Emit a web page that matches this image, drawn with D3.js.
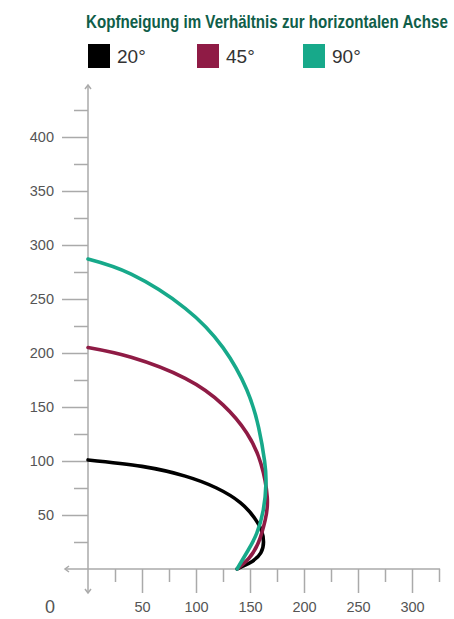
<!DOCTYPE html>
<html>
<head>
<meta charset="utf-8">
<script src="https://cdn.jsdelivr.net/npm/d3@7"></script>
<style>
  body { margin: 0; background: #fff; }
  svg { display: block; font-family: "Liberation Sans", Arial, sans-serif; }
</style>
</head>
<body>
<div id="grafico"></div>
<script>
// Daten
const titel = "Kopfneigung im Verhältnis zur horizontalen Achse";
const serien = ["20°", "45°", "90°"];
const farben = ["#000000", "#8f1b45", "#17a98a"];

const x20 = [0, 50, 90, 119, 141, 154, 160.5, 162.5, 160, 152, 143, 138];
const y20 = [101, 95, 86, 75, 61.5, 47.5, 36, 25, 15, 7, 2.5, 0];

const x45 = [0, 40, 90, 125, 147, 160, 166, 164, 158, 149, 138];
const y45 = [205, 196, 176.5, 152, 126, 98, 66, 45, 25, 10, 0];

const x90 = [0, 40, 90, 125, 147, 158, 163.5, 164.8, 162.3, 156.2, 148.4, 138];
const y90 = [287, 273, 241.4, 205, 166, 131, 100, 79.3, 54.6, 33, 17.6, 0];

const xTicks = [50, 100, 150, 200, 250, 300];
const xMinor = [25, 75, 125, 175, 225, 275, 325];
const yTicks = [50, 100, 150, 200, 250, 300, 350, 400];
const yMinor = [25, 75, 125, 175, 225, 275, 325, 375, 425];

function criarGrafico() {
    const svg = d3.select("#grafico").append("svg")
        .attr("width", 454)
        .attr("height", 619);

    const achsenFarbe = "#aaaaaa";

    // Skalen: 1.08 px pro Einheit
    const x = d3.scaleLinear().domain([0, 300]).range([88, 412]);
    const y = d3.scaleLinear().domain([0, 400]).range([569, 137]);

    // Titel (schmal gestaucht auf die Breite der Vorlage)
    const titelText = svg.append("text")
        .attr("font-family", "'Liberation Sans Narrow', 'Arial Narrow', 'Liberation Sans', sans-serif")
        .attr("font-weight", "bold")
        .attr("font-size", 18)
        .attr("fill", "#105e49")
        .text(titel);
    const breite = titelText.node().getComputedTextLength();
    titelText.attr("transform", `translate(86,28) scale(${362 / breite},1)`);

    // Legende
    const legX = [88, 197, 303];
    const legende = svg.append("g");
    serien.forEach((s, i) => {
        legende.append("rect")
            .attr("x", legX[i]).attr("y", 44)
            .attr("width", 22).attr("height", 24)
            .attr("fill", farben[i]);
        legende.append("text")
            .attr("x", legX[i] + 29).attr("y", 63)
            .attr("font-size", 19)
            .attr("fill", "#333")
            .text(s);
    });

    // Y-Achse Hauptstriche
    const yAchse = svg.append("g")
        .attr("transform", "translate(88,0)")
        .call(d3.axisLeft(y).tickValues(yTicks).tickSize(26).tickPadding(8));
    yAchse.select(".domain").remove();
    yAchse.selectAll("line").attr("stroke", achsenFarbe).attr("stroke-width", 1.5);
    yAchse.selectAll("text")
        .attr("font-size", 14.5)
        .attr("font-family", "'Liberation Sans', Arial, sans-serif")
        .attr("fill", "#555");

    // Y-Achse Nebenstriche
    const yNeben = svg.append("g")
        .attr("transform", "translate(88,0)")
        .call(d3.axisLeft(y).tickValues(yMinor).tickSize(14).tickFormat(""));
    yNeben.select(".domain").remove();
    yNeben.selectAll("line").attr("stroke", achsenFarbe).attr("stroke-width", 1.5);

    // X-Achse Hauptstriche
    const xAchse = svg.append("g")
        .attr("transform", "translate(0,569)")
        .call(d3.axisBottom(x).tickValues(xTicks).tickSize(24));
    xAchse.select(".domain").remove();
    xAchse.selectAll("line").attr("stroke", achsenFarbe).attr("stroke-width", 1.5);
    xAchse.selectAll("text")
        .attr("y", 43).attr("dy", 0)
        .attr("font-size", 14.5)
        .attr("font-family", "'Liberation Sans', Arial, sans-serif")
        .attr("fill", "#555");

    // X-Achse Nebenstriche
    const xNeben = svg.append("g")
        .attr("transform", "translate(0,569)")
        .call(d3.axisBottom(x).tickValues(xMinor).tickSize(13).tickFormat(""));
    xNeben.select(".domain").remove();
    xNeben.selectAll("line").attr("stroke", achsenFarbe).attr("stroke-width", 1.5);

    // Achsenlinien mit Pfeilen
    const achsen = svg.append("g")
        .attr("fill", "none")
        .attr("stroke", achsenFarbe)
        .attr("stroke-width", 1.5);
    achsen.append("line").attr("x1", 88).attr("x2", 88).attr("y1", 85).attr("y2", 593);
    achsen.append("line").attr("x1", 65).attr("x2", x(326)).attr("y1", 569).attr("y2", 569);
    achsen.append("path").attr("d", "M85,89 L88,85 L91,89");
    achsen.append("path").attr("d", "M85,589 L88,593 L91,589");
    achsen.append("path").attr("d", "M69,566 L65,569 L69,572");

    // Null-Beschriftung
    svg.append("text")
        .attr("x", 50).attr("y", 613)
        .attr("text-anchor", "middle")
        .attr("font-size", 18)
        .attr("fill", "#555")
        .text("0");

    // Kurven
    const linie = d3.line()
        .x(d => x(d[0]))
        .y(d => y(d[1]))
        .curve(d3.curveNatural);

    const daten = [d3.zip(x20, y20), d3.zip(x45, y45), d3.zip(x90, y90)];
    daten.forEach((d, i) => {
        svg.append("path")
            .datum(d)
            .attr("fill", "none")
            .attr("stroke", farben[i])
            .attr("stroke-width", 3.6)
            .attr("stroke-linecap", "round")
            .attr("d", linie);
    });
}

document.addEventListener('DOMContentLoaded', criarGrafico);
</script>
</body>
</html>
